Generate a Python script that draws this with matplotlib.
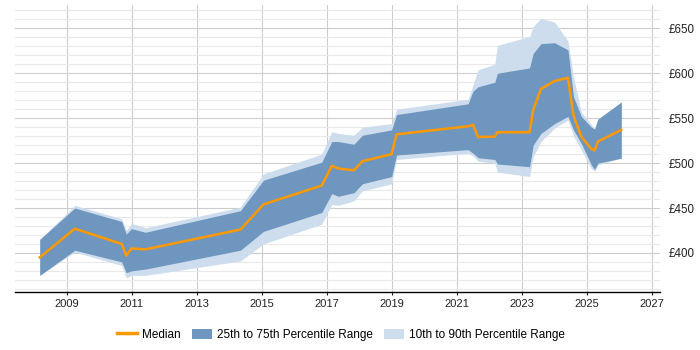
import matplotlib
matplotlib.use("Agg")
import matplotlib.pyplot as plt
from matplotlib.lines import Line2D
from matplotlib.patches import Patch
import numpy as np

# decimal years of each data point
years = [2008.17, 2009.25, 2010.69, 2010.83, 2010.99, 2011.42, 2014.34, 2015.05,
         2016.84, 2017.15, 2017.35, 2017.83, 2018.09, 2018.99, 2019.14, 2021.34,
         2021.49, 2021.65, 2022.16, 2022.24, 2023.23, 2023.34, 2023.58, 2024.00,
         2024.41, 2024.58, 2024.82, 2025.13, 2025.23, 2025.33, 2026.05]

median = [395, 427, 410, 397, 405, 404, 426, 454, 475, 497, 494, 492, 502, 510,
          532, 541, 542.6, 529, 529.6, 534.4, 534.4, 559, 582.6, 591.4, 595, 553,
          529.6, 515.6, 514, 524, 537]
p75 = [415, 450, 435, 421, 427, 423, 447, 481, 501, 524, 524, 521, 531, 537, 554,
       566, 580, 585, 590, 600, 606, 622, 633, 634, 626, 574, 552, 540, 538, 549, 568]
p25 = [375, 403, 390, 378, 380, 382, 403, 424, 445, 466, 463, 467, 477, 485, 509,
       515, 511, 506, 504, 499, 496, 520, 533, 544, 552, 537, 522, 498, 493, 500, 505.5]
p90 = [415, 453, 438, 425, 433, 428, 451, 488, 510, 535, 533, 531, 540, 544, 560,
       571, 587, 604, 610, 631, 641, 652, 661, 657, 636, 596, 557, 543, 538, 549, 568]
p10 = [375, 401, 386, 372, 375, 375, 391, 410, 432, 454, 453, 458, 469, 477, 504,
       511, 508, 502, 500, 490, 485, 507, 524, 539, 548, 530, 515, 494, 491, 498, 505.5]

x_ticks = list(range(2009, 2028, 2))
y_ticks = [400, 450, 500, 550, 600, 650]
y_labels = ["£400", "£450", "£500", "£550", "£600", "£650"]

plt.rcParams["font.family"] = ["Liberation Sans", "DejaVu Sans"]

DARK = "#6f96bf"
LIGHT = "#cddded"
ORANGE = "#ff9900"

fig = plt.figure(figsize=(7, 3.5), dpi=100)
ax = fig.add_axes([15 / 700, 1 - 292 / 350, 645 / 700, 287 / 350])

ax.fill_between(years, p10, p90, color=LIGHT, lw=0, zorder=2)
ax.fill_between(years, p25, p75, color=DARK, lw=0, zorder=3)
ax.plot(years, median, color=ORANGE, lw=1.8, zorder=4)

ax.set_xlim(2007.41, 2027.24)
ax.set_ylim(356.5, 676)

ax.set_xticks(x_ticks)
ax.set_xticklabels([str(y) for y in x_ticks], fontsize=8)
ax.set_yticks(y_ticks)
ax.set_yticklabels(y_labels, fontsize=8.3)
ax.set_yticks(np.arange(360, 671, 10), minor=True)
ax.yaxis.tick_right()
ax.tick_params(axis="y", which="both", length=0, pad=6, colors="#222222")
ax.tick_params(axis="x", length=2, width=0.8, pad=3, colors="#222222")

ax.grid(axis="x", color="#cccccc", lw=0.8, zorder=0)
ax.grid(axis="y", which="major", color="#cccccc", lw=0.8, zorder=0)
ax.grid(axis="y", which="minor", color="#e9e9e9", lw=0.8, zorder=0)
ax.set_axisbelow(True)

for side in ["top", "right", "left"]:
    ax.spines[side].set_visible(False)
ax.spines["bottom"].set_color("black")
ax.spines["bottom"].set_linewidth(1)

handles = [
    Line2D([0], [0], color=ORANGE, lw=2.5),
    Patch(facecolor=DARK, edgecolor="none"),
    Patch(facecolor=LIGHT, edgecolor="none"),
]
labels = ["Median", "25th to 75th Percentile Range", "10th to 90th Percentile Range"]
fig.legend(handles, labels, loc="center", bbox_to_anchor=(0.487, 0.043), ncol=3,
           frameon=False, fontsize=8.5, handlelength=1.7, handleheight=0.97,
           handletextpad=0.42, columnspacing=0.93)

fig.savefig("out.png", dpi=100)
